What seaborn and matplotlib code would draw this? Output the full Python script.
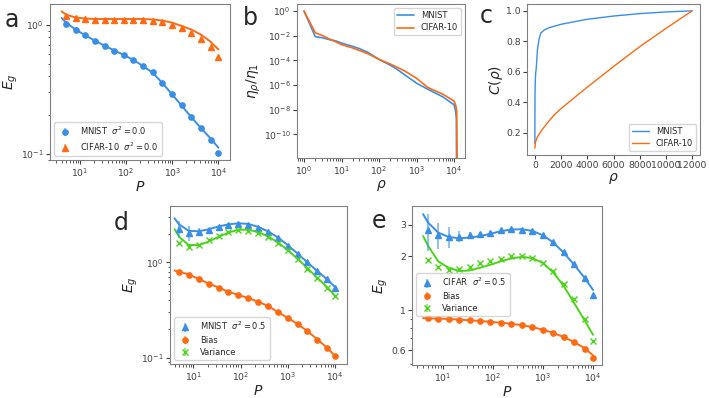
import numpy as np
import matplotlib
matplotlib.use("Agg")
import matplotlib.pyplot as plt
import seaborn as sns
from matplotlib.colors import to_rgba
from matplotlib.ticker import NullFormatter, NullLocator

# ---- data ----
P = [5, 8, 13, 21, 34, 55, 89, 144, 233, 377, 610, 987, 1597, 2584, 4181, 6765, 10000]
P_fit = [4, 5, 8, 13, 21, 34, 55, 89, 144, 233, 377, 610, 987, 1597, 2584, 4181, 6765, 10000]

# panel a, sigma^2 = 0
a_mnist = [1.01, 0.914, 0.83, 0.75, 0.69, 0.63, 0.586, 0.536, 0.48, 0.43, 0.354, 0.292, 0.238, 0.193, 0.159, 0.128, 0.102]
a_mnist_err = [0.07, 0.04, 0.03, 0.02, 0.015, 0.01, 0.01, 0.008, 0.006, 0.005, 0.004, 0.003, 0.003, 0.002, 0.002, 0.002, 0.001]
a_mnist_fit = [1.13, 1.04, 0.92, 0.83, 0.755, 0.69, 0.635, 0.585, 0.535, 0.48, 0.425, 0.355, 0.29, 0.237, 0.193, 0.159, 0.132, 0.112]
a_cifar = [1.18, 1.13, 1.11, 1.10, 1.10, 1.10, 1.10, 1.10, 1.10, 1.08, 1.055, 1.006, 0.94, 0.87, 0.78, 0.67, 0.56]
a_cifar_err = [0.03, 0.02, 0.015, 0.01, 0.01, 0.008, 0.006, 0.005, 0.004, 0.004, 0.003, 0.003, 0.003, 0.003, 0.002, 0.002, 0.002]
a_cifar_fit = [1.27, 1.2, 1.14, 1.12, 1.11, 1.11, 1.11, 1.11, 1.11, 1.11, 1.10, 1.08, 1.04, 0.98, 0.92, 0.84, 0.74, 0.645]

# panel b, kernel spectra
rho_mnist = [1, 2, 3, 5, 7, 10, 20, 30, 50, 100, 200, 300, 500, 1000, 2000, 5000, 10000, 11000, 11500, 11800]
eig_mnist = [1.0, 8.3e-3, 6.9e-3, 4.6e-3, 3.8e-3, 2.5e-3, 1.35e-3, 8.9e-4, 4.5e-4, 1.2e-4, 4.0e-5, 1.9e-5, 6.3e-6, 1.4e-6, 4.5e-7, 1.1e-7, 2.5e-8, 8e-9, 2e-9, 1e-15]
rho_cifar = [1, 2, 3, 5, 7, 10, 20, 30, 50, 100, 200, 300, 500, 1000, 2000, 5000, 10000, 11000, 11800, 12300]
eig_cifar = [1.0, 1.7e-2, 1.07e-2, 5.0e-3, 3.2e-3, 1.9e-3, 1.0e-3, 6.3e-4, 3.5e-4, 1.2e-4, 5.0e-5, 2.8e-5, 1.3e-5, 3.5e-6, 6.3e-7, 1.8e-7, 5.0e-8, 2.5e-8, 8e-9, 1e-15]

# panel c, cumulative power
rho_c_mnist = [1, 10, 30, 60, 100, 200, 330, 460, 720, 1100, 2000, 4000, 6000, 8000, 10000, 12000]
C_mnist = [0.13, 0.45, 0.53, 0.59, 0.62, 0.745, 0.82, 0.855, 0.875, 0.89, 0.912, 0.945, 0.966, 0.982, 0.993, 1.0]
rho_c_cifar = [1, 50, 200, 500, 1000, 1500, 2000, 3000, 4000, 6000, 8000, 10000, 12000]
C_cifar = [0.1, 0.14, 0.175, 0.215, 0.27, 0.32, 0.36, 0.43, 0.5, 0.635, 0.765, 0.885, 1.0]

# panel d, MNIST sigma^2 = 0.5
d_total = [2.24, 2.05, 2.08, 2.19, 2.35, 2.49, 2.55, 2.46, 2.28, 2.09, 1.79, 1.5, 1.23, 1.0, 0.815, 0.67, 0.545]
d_total_err = [0.45, 0.38, 0.2, 0.1, 0.06, 0.05, 0.04, 0.03, 0.03, 0.02, 0.02, 0.02, 0.01, 0.01, 0.01, 0.01, 0.01]
d_total_fit = [2.89, 2.5, 2.14, 2.12, 2.22, 2.38, 2.5, 2.57, 2.53, 2.36, 2.12, 1.83, 1.52, 1.24, 1.0, 0.81, 0.665, 0.55]
d_bias = [0.80, 0.746, 0.67, 0.6, 0.545, 0.49, 0.454, 0.425, 0.386, 0.352, 0.30, 0.262, 0.226, 0.19, 0.155, 0.127, 0.104]
d_bias_fit = [0.82, 0.80, 0.746, 0.67, 0.6, 0.545, 0.492, 0.455, 0.424, 0.387, 0.35, 0.302, 0.262, 0.226, 0.19, 0.156, 0.127, 0.104]
d_var = [1.58, 1.46, 1.53, 1.73, 1.9, 2.08, 2.19, 2.15, 2.03, 1.86, 1.61, 1.34, 1.08, 0.86, 0.68, 0.545, 0.44]
d_var_fit = [2.23, 1.85, 1.52, 1.52, 1.65, 1.85, 2.05, 2.2, 2.2, 2.08, 1.88, 1.62, 1.35, 1.09, 0.87, 0.69, 0.55, 0.445]

# panel e, CIFAR sigma^2 = 0.5
e_total = [2.81, 2.64, 2.58, 2.58, 2.63, 2.67, 2.72, 2.81, 2.84, 2.82, 2.76, 2.63, 2.4, 2.11, 1.82, 1.51, 1.22]
e_total_err = [0.65, 0.43, 0.35, 0.18, 0.1, 0.08, 0.05, 0.04, 0.04, 0.03, 0.03, 0.03, 0.02, 0.02, 0.02, 0.02, 0.02]
e_total_fit = [3.45, 3.1, 2.72, 2.57, 2.53, 2.55, 2.6, 2.68, 2.77, 2.83, 2.84, 2.78, 2.63, 2.4, 2.1, 1.8, 1.52, 1.3]
e_bias = [0.906, 0.9, 0.895, 0.887, 0.88, 0.873, 0.861, 0.854, 0.843, 0.825, 0.808, 0.78, 0.748, 0.711, 0.667, 0.612, 0.544]
e_bias_fit = [0.905, 0.903, 0.9, 0.895, 0.888, 0.88, 0.872, 0.862, 0.853, 0.842, 0.826, 0.806, 0.78, 0.748, 0.71, 0.665, 0.615, 0.56]
e_var = [1.9, 1.74, 1.68, 1.7, 1.75, 1.83, 1.88, 1.94, 2.0, 2.0, 1.95, 1.84, 1.65, 1.41, 1.15, 0.89, 0.67]
e_var_fit = [2.6, 2.3, 1.88, 1.73, 1.66, 1.67, 1.73, 1.8, 1.88, 1.95, 1.99, 1.96, 1.84, 1.63, 1.37, 1.1, 0.88, 0.73]

BLUE = "#3A8EE6"
ORANGE = "#FF6A13"
GREEN = "#4CD41A"

sns.set_style("ticks", rc={
    "axes.edgecolor": "0.5",
    "axes.linewidth": 1.0,
    "xtick.color": "0.25",
    "ytick.color": "0.25",
})
plt.rcParams.update({
    "font.family": ["DejaVu Sans"],
    "xtick.labelsize": 6.7,
    "ytick.labelsize": 6.7,
    "axes.labelsize": 10,
    "legend.fontsize": 6,
    "legend.labelspacing": 0.4,
    "legend.borderpad": 0.35,
    "xtick.major.size": 3,
    "ytick.major.size": 3,
    "xtick.minor.size": 1.8,
    "ytick.minor.size": 1.8,
    "xtick.major.pad": 1.5,
    "ytick.major.pad": 1.5,
    "axes.labelpad": 0.5,
})

W, H = 709, 398
fig = plt.figure(figsize=(W / 100, H / 100), dpi=100)


def add_ax(l, t, r, b):
    return fig.add_axes([l / W, 1 - b / H, (r - l) / W, (b - t) / H])


def err_pts(ax, y, yerr, color, marker, label, ms=3.8):
    ax.errorbar(P, y, yerr=yerr, fmt=marker, color=color, ms=ms,
                ecolor=to_rgba(color, 0.55), elinewidth=1.5, capsize=0,
                label=label, mew=1.0)


def fit_line(ax, y, color):
    sns.lineplot(x=P_fit, y=y, ax=ax, color=color, lw=1.4)


ax_a = add_ax(50, 4, 230, 160)
ax_b = add_ax(297, 4, 465, 158)
ax_c = add_ax(527, 4, 700, 155)
ax_d = add_ax(170, 206, 347, 364)
ax_e = add_ax(412, 206, 602, 365)

# ---- a ----
fit_line(ax_a, a_mnist_fit, BLUE)
fit_line(ax_a, a_cifar_fit, ORANGE)
err_pts(ax_a, a_mnist, a_mnist_err, BLUE, "o", r"MNIST  $\sigma^2 = 0.0$")
err_pts(ax_a, a_cifar, a_cifar_err, ORANGE, "^", r"CIFAR-10  $\sigma^2 = 0.0$")
ax_a.set_xscale("log")
ax_a.set_yscale("log")
ax_a.set_xlim(2.24, 17800)
ax_a.set_ylim(0.09, 1.45)
ax_a.set_xlabel(r"$P$")
ax_a.set_ylabel(r"$E_g$")
ax_a.legend(loc="lower left")

# ---- b ----
sns.lineplot(x=rho_mnist, y=eig_mnist, ax=ax_b, color=BLUE, lw=1.2, label="MNIST")
sns.lineplot(x=rho_cifar, y=eig_cifar, ax=ax_b, color=ORANGE, lw=1.2, label="CIFAR-10")
ax_b.set_xscale("log")
ax_b.set_yscale("log")
ax_b.set_xlim(0.65, 19600)
ax_b.set_ylim(1.2e-12, 3.7)
ax_b.set_yticks([1e0, 1e-2, 1e-4, 1e-6, 1e-8, 1e-10])
ax_b.yaxis.set_minor_locator(NullLocator())
ax_b.set_xlabel(r"$\rho$")
ax_b.set_ylabel(r"$\eta_\rho / \eta_1$")
ax_b.legend(loc="upper right")

# ---- c ----
sns.lineplot(x=rho_c_mnist, y=C_mnist, ax=ax_c, color=BLUE, lw=1.0, label="MNIST")
sns.lineplot(x=rho_c_cifar, y=C_cifar, ax=ax_c, color=ORANGE, lw=1.0, label="CIFAR-10")
ax_c.set_xlim(-600, 12600)
ax_c.set_ylim(0.055, 1.045)
ax_c.set_xticks([0, 2000, 4000, 6000, 8000, 10000, 12000])
ax_c.set_yticks([0.2, 0.4, 0.6, 0.8, 1.0])
ax_c.set_xlabel(r"$\rho$")
ax_c.set_ylabel(r"$C(\rho)$")
ax_c.legend(loc="lower right")

# ---- d ----
fit_line(ax_d, d_total_fit, BLUE)
fit_line(ax_d, d_bias_fit, ORANGE)
fit_line(ax_d, d_var_fit, GREEN)
err_pts(ax_d, d_total, d_total_err, BLUE, "^", r"MNIST  $\sigma^2 = 0.5$")
err_pts(ax_d, d_bias, [0.005] * len(P), ORANGE, "o", "Bias")
err_pts(ax_d, d_var, [0.01] * len(P), GREEN, "x", "Variance")
ax_d.set_xscale("log")
ax_d.set_yscale("log")
ax_d.set_xlim(3.2, 17800)
ax_d.set_ylim(0.086, 3.9)
ax_d.set_xlabel(r"$P$")
ax_d.set_ylabel(r"$E_g$")
ax_d.legend(loc="lower left")

# ---- e ----
fit_line(ax_e, e_total_fit, BLUE)
fit_line(ax_e, e_bias_fit, ORANGE)
fit_line(ax_e, e_var_fit, GREEN)
err_pts(ax_e, e_total, e_total_err, BLUE, "^", r"CIFAR  $\sigma^2 = 0.5$")
err_pts(ax_e, e_bias, [0.005] * len(P), ORANGE, "o", "Bias")
err_pts(ax_e, e_var, [0.01] * len(P), GREEN, "x", "Variance")
ax_e.set_xscale("log")
ax_e.set_yscale("log")
ax_e.set_xlim(2.4, 15100)
ax_e.set_ylim(0.495, 3.83)
ax_e.set_yticks([0.6, 1, 2, 3], labels=["0.6", "1", "2", "3"])
ax_e.set_yticks([0.5, 0.7, 0.8, 0.9], minor=True)
ax_e.yaxis.set_minor_formatter(NullFormatter())
ax_e.set_xlabel(r"$P$")
ax_e.set_ylabel(r"$E_g$")
ax_e.legend(loc="upper left", bbox_to_anchor=(0.0, 0.605))

for ax in (ax_a, ax_b, ax_c, ax_d, ax_e):
    for s in ax.spines.values():
        s.set_visible(True)

# panel letters
for letter, x, y in [("a", 5, 27), ("b", 243, 25), ("c", 480, 23), ("d", 114, 230), ("e", 372, 228)]:
    fig.text(x / W, 1 - y / H, letter, fontsize=17, va="baseline", ha="left")

fig.savefig("out.png", dpi=100)
